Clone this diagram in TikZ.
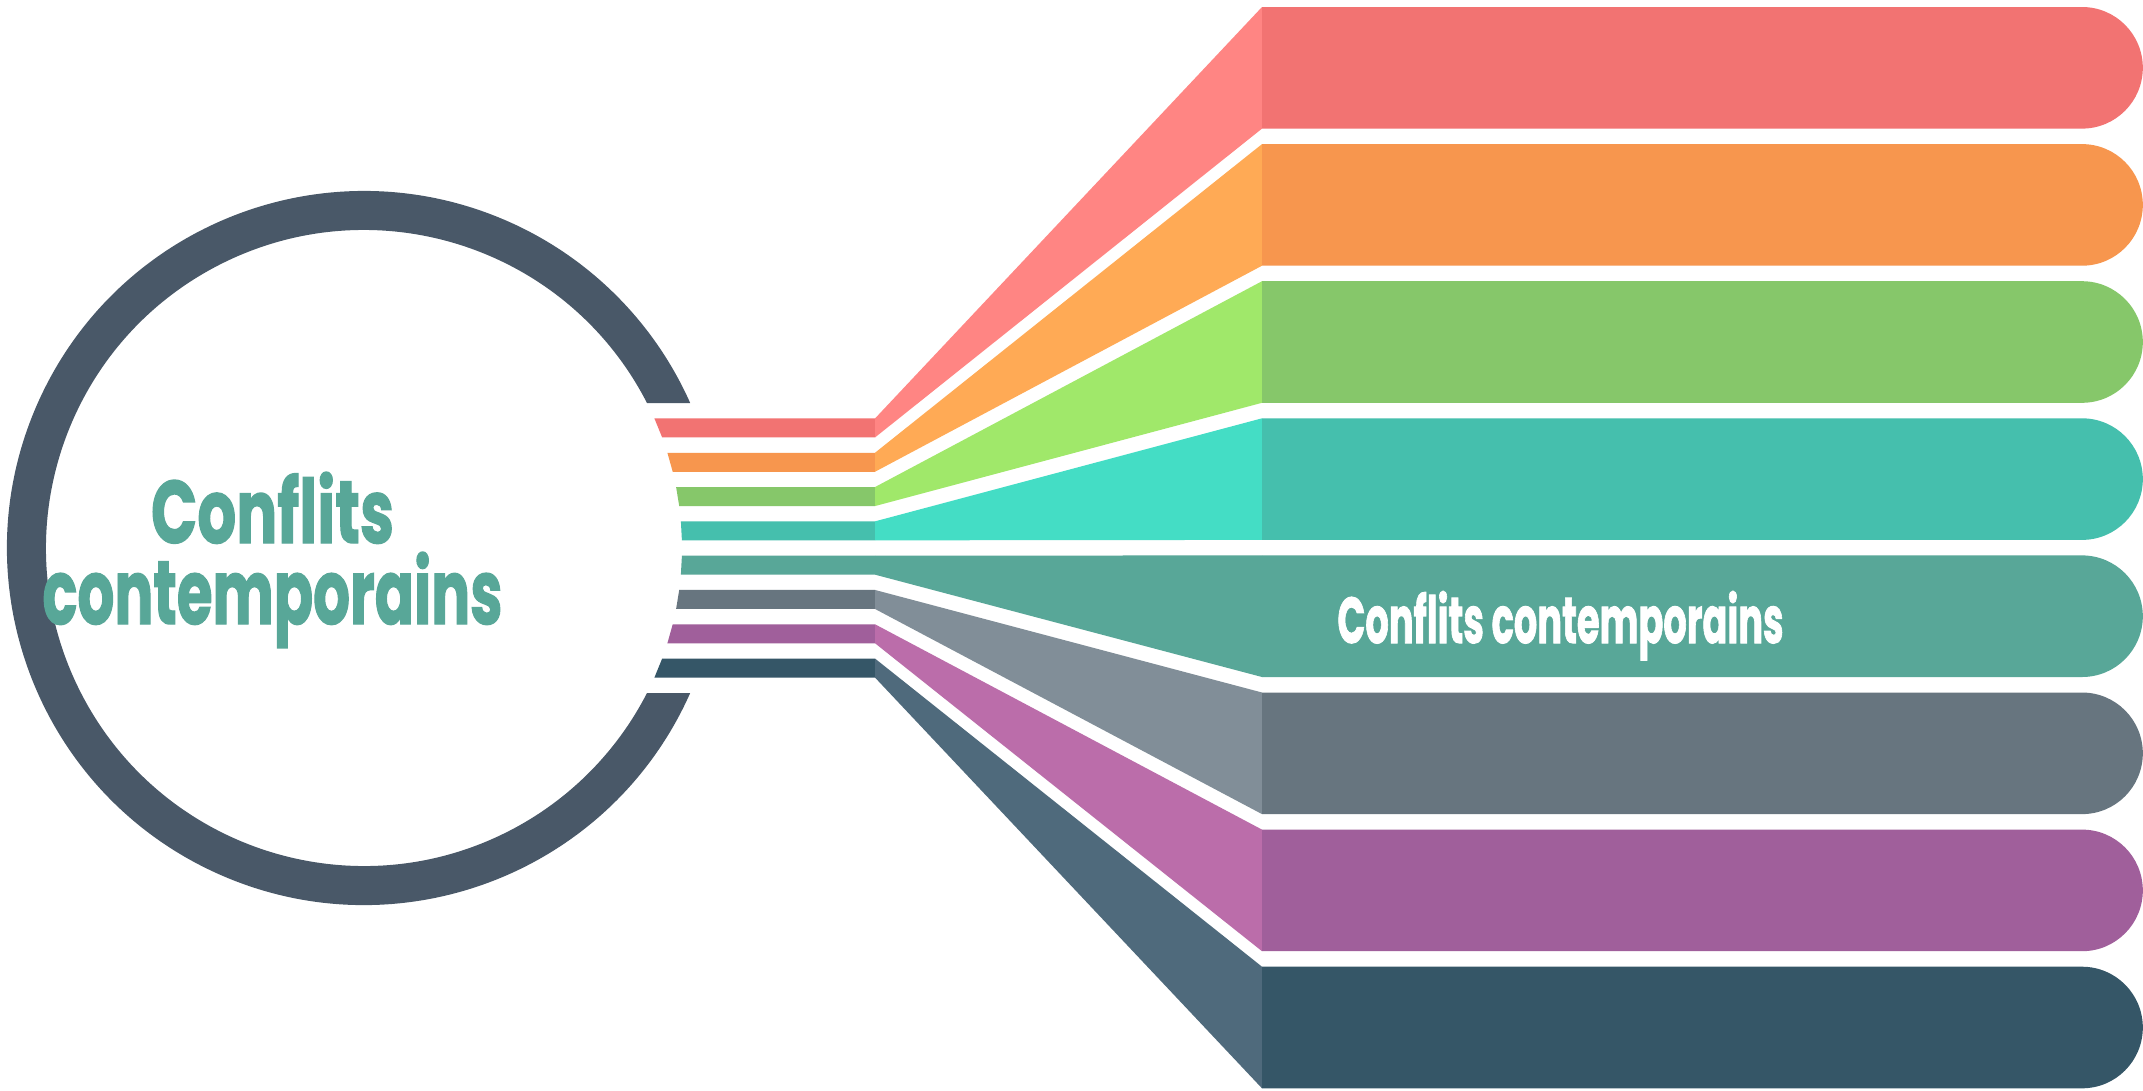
\documentclass[tikz,border=0pt]{standalone}
\usepackage{fontspec}
\setmainfont{Poppins}
\newfontfamily\lblfont{Poppins}[FakeBold=1.6]
\definecolor{c1d}{HTML}{F27372}\definecolor{c1l}{HTML}{FF8583}
\definecolor{c2d}{HTML}{F7964E}\definecolor{c2l}{HTML}{FFAA55}
\definecolor{c3d}{HTML}{86C76A}\definecolor{c3l}{HTML}{A0E86A}
\definecolor{c4d}{HTML}{45BFAD}\definecolor{c4l}{HTML}{44DDC5}
\definecolor{c5d}{HTML}{58A798}\definecolor{c5l}{HTML}{58A798}
\definecolor{c6d}{HTML}{67757F}\definecolor{c6l}{HTML}{818E98}
\definecolor{c7d}{HTML}{A05F9B}\definecolor{c7l}{HTML}{BB6DAA}
\definecolor{c8d}{HTML}{355667}\definecolor{c8l}{HTML}{4F6A7C}
\definecolor{ringc}{HTML}{495868}
\tikzset{
  label/.style={inner sep=0pt, outer sep=0pt, anchor=base, font=\lblfont\bfseries},
}
\begin{document}
\begin{tikzpicture}[x=1pt,y=-1pt]
\useasboundingbox (0,0) rectangle (2143,1090);
\fill[white] (0,0) rectangle (2143,1090);
% ring
\fill[ringc] (690.2,693) arc[start angle=23.963, end angle=336.037, radius=357]
  -- (647.0,403) arc[start angle=332.871, end angle=27.129, radius=318] -- cycle;
% strips, fans and bars
\foreach \k/\cd/\cl in {0/c1d/c1l,1/c2d/c2l,2/c3d/c3l,3/c4d/c4l,4/c5d/c5l,5/c6d/c6l,6/c7d/c7l,7/c8d/c8l}{
  \pgfmathsetmacro\st{418.45+34.3*\k}
  \pgfmathsetmacro\sb{\st+19}
  \pgfmathsetmacro\xt{364+100*sqrt(3.18^2-((\st-548)/100)^2)}
  \pgfmathsetmacro\xb{364+100*sqrt(3.18^2-((\sb-548)/100)^2)}
  \pgfmathsetmacro\bt{7+137.1*\k}
  \pgfmathsetmacro\bb{\bt+121.6}
  \fill[\cd] (\xt,\st) -- (875,\st) -- (875,\sb) -- (\xb,\sb) -- cycle;
  \fill[\cl] (875,\st) -- (1262,\bt) -- (1262,\bb) -- (875,\sb) -- cycle;
  \fill[\cd] (1262,\bt) -- (2082,\bt) arc[start angle=-90, end angle=90, radius=60.8] -- (1262,\bb) -- cycle;
}
% texts
\node[label, text=c5d] (t1) at (272.5,543) {\resizebox{243pt}{71pt}{Conflits}};
\node[label, text=c5d] (t2) at (272.5,624) {\resizebox{460pt}{72pt}{contemporains}};
\node[label, text=white] (t3) at (1560.5,643) {\resizebox{446pt}{52pt}{Conflits contemporains}};
\end{tikzpicture}
\end{document}
